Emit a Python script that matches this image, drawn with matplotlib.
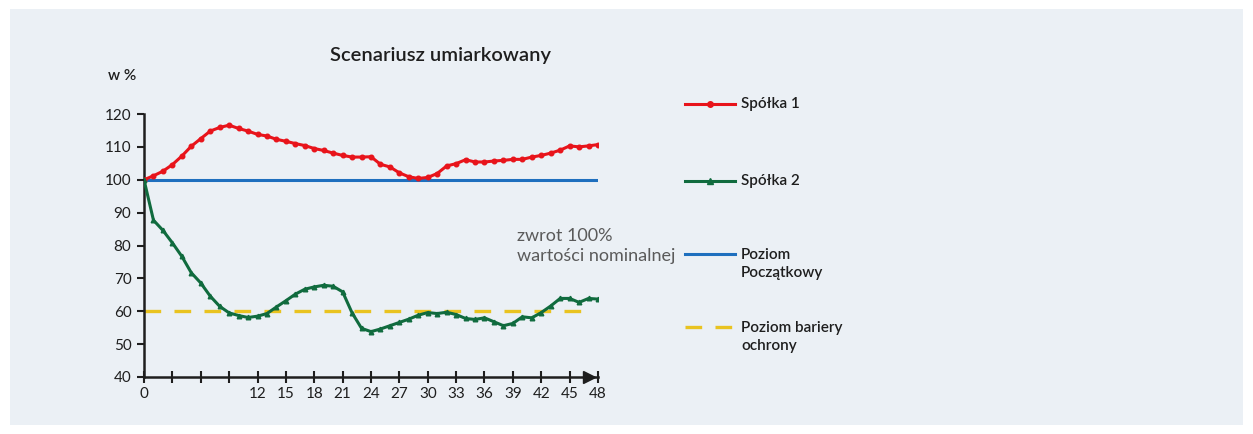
import matplotlib
matplotlib.use("Agg")
import matplotlib.pyplot as plt
from matplotlib.lines import Line2D
from matplotlib.patches import Rectangle

months = list(range(0, 49))
spolka1 = [100.0, 101.2, 102.6, 104.6, 107.2, 110.2, 112.5, 114.8, 115.9, 116.6,
           115.6, 114.8, 113.8, 113.3, 112.3, 111.7, 111.0, 110.4, 109.5, 108.9,
           108.1, 107.4, 106.9, 106.9, 107.0, 104.7, 103.9, 102.1, 100.9, 100.4,
           100.7, 101.9, 104.2, 104.9, 106.1, 105.4, 105.4, 105.7, 105.9, 106.2,
           106.2, 106.9, 107.4, 108.1, 109.0, 110.3, 110.0, 110.3, 110.7]
spolka2 = [100.0, 87.7, 84.6, 80.8, 76.7, 71.7, 68.6, 64.6, 61.5, 59.5,
           58.7, 58.1, 58.5, 59.3, 61.3, 63.2, 65.2, 66.7, 67.4, 67.9,
           67.6, 65.9, 59.5, 54.8, 53.8, 54.6, 55.6, 56.6, 57.6, 58.8,
           59.6, 59.3, 59.7, 59.0, 57.8, 57.5, 58.0, 56.8, 55.6, 56.3,
           58.3, 58.0, 59.6, 61.6, 63.9, 63.9, 62.7, 63.9, 63.7]
poziom_poczatkowy = 100
poziom_bariery = 60
bariera_end = 47.4

x_ticks = list(range(0, 49, 3))
x_ticklabels = ["0", "", "", ""] + [str(v) for v in range(12, 49, 3)]
y_ticks = list(range(40, 121, 10))

title = "Scenariusz umiarkowany"
ylabel = "w %"
annotation = "zwrot 100%\nwartości nominalnej"
legend_labels = ["Spółka 1", "Spółka 2", "Poziom\nPoczątkowy", "Poziom bariery\nochrony"]

RED = "#E8141B"
GREEN = "#106B3E"
BLUE = "#1E6FBE"
YELLOW = "#E9C320"
BG = "#EBF0F5"
DARK = "#1E1E1E"

plt.rcParams['font.family'] = ['Lato', 'DejaVu Sans']

W, H = 1253, 434
fig = plt.figure(figsize=(W / 100, H / 100), dpi=100)
fig.patch.set_facecolor("white")
fig.add_artist(Rectangle((10 / W, 9 / H), (1243 - 10) / W, (425 - 9) / H,
                         transform=fig.transFigure, facecolor=BG, edgecolor="none", zorder=0))

ax = fig.add_axes([144 / W, 1 - 377 / H, (598 - 144) / W, (377 - 114) / H])
ax.set_facecolor("none")
ax.set_xlim(0, 48)
ax.set_ylim(40, 120)

ax.plot([0, 48], [poziom_poczatkowy, poziom_poczatkowy], color=BLUE, lw=2.2, zorder=2)
ax.plot([0, bariera_end], [poziom_bariery, poziom_bariery], color=YELLOW, lw=2.4,
        dashes=(5, 4), zorder=2)
ax.plot(months, spolka1, color=RED, lw=2.2, marker="o", ms=3.3, zorder=3)
ax.plot(months, spolka2, color=GREEN, lw=2.2, marker="^", ms=3.3, zorder=3)

for s in ["top", "right"]:
    ax.spines[s].set_visible(False)
for s in ["left", "bottom"]:
    ax.spines[s].set_color(DARK)
    ax.spines[s].set_linewidth(1.8)

ax.set_xticks(x_ticks)
ax.set_xticklabels(x_ticklabels)
ax.set_yticks(y_ticks)
ax.tick_params(axis="x", direction="inout", length=9, width=1.5, color=DARK,
               labelsize=11, pad=3, labelcolor=DARK)
ax.tick_params(axis="y", direction="out", length=5, width=1.5, color=DARK,
               labelsize=11, pad=4, labelcolor=DARK)
ax.plot([47.1], [40], marker=">", color=DARK, ms=9, clip_on=False, zorder=5)

fig.text(441 / W, 1 - 55 / H, title, ha="center", va="center", fontsize=14.5,
         fontweight="semibold", color=DARK)
fig.text(108 / W, 1 - 76 / H, ylabel, ha="left", va="center", fontsize=11,
         fontweight="semibold", color=DARK)
fig.text(517 / W, 1 - 246 / H, annotation, ha="left", va="center", fontsize=13,
         color="#5A5A5A", linespacing=1.25, fontweight="normal")

# legend
leg_items = [
    (104, RED, "-", "o", legend_labels[0], 1),
    (181, GREEN, "-", "^", legend_labels[1], 1),
    (254, BLUE, "-", None, legend_labels[2], 2),
    (327, YELLOW, "--", None, legend_labels[3], 2),
]
for y, col, ls, mk, lab, nlines in leg_items:
    yf = 1 - y / H
    if ls == "--":
        fig.add_artist(Line2D([685 / W, 735 / W], [yf, yf], color=col, lw=2.4,
                              dashes=(5, 4), transform=fig.transFigure))
    else:
        fig.add_artist(Line2D([685 / W, 735 / W], [yf, yf], color=col, lw=2.2,
                              transform=fig.transFigure))
        if mk:
            fig.add_artist(Line2D([710 / W], [yf], color=col, marker=mk, ms=4,
                                  transform=fig.transFigure))
    va = "center" if nlines == 1 else "top"
    ty = yf if nlines == 1 else yf + 6 / H
    fig.text(741 / W, ty, lab, ha="left", va=va, fontsize=11, fontweight="semibold",
             color=DARK, linespacing=1.35)

fig.savefig("out.png", dpi=100, facecolor="white")
